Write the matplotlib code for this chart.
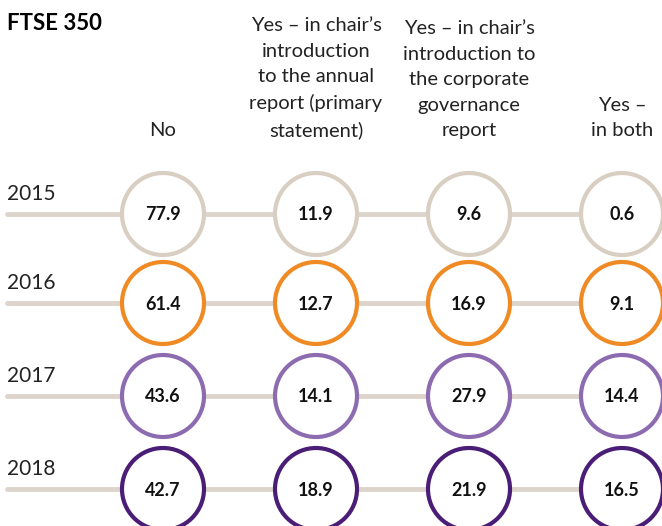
import matplotlib.pyplot as plt
from matplotlib.patches import Circle

years = ["2015", "2016", "2017", "2018"]
columns = ["No",
           "Yes \u2013 in chair\u2019s\nintroduction\nto the annual\nreport (primary\nstatement)",
           "Yes \u2013 in chair\u2019s\nintroduction to\nthe corporate\ngovernance\nreport",
           "Yes \u2013\nin both"]
values = [
    [77.9, 11.9, 9.6, 0.6],
    [61.4, 12.7, 16.9, 9.1],
    [43.6, 14.1, 27.9, 14.4],
    [42.7, 18.9, 21.9, 16.5],
]
ring_colors = ["#d8cec2", "#f08a24", "#8c6bb1", "#4a1d77"]
line_color = "#ddd5cb"

plt.rcParams['font.family'] = ['Lato', 'DejaVu Sans']

fig = plt.figure(figsize=(6.62, 5.26), dpi=100)
ax = fig.add_axes([0, 0, 1, 1])
ax.set_xlim(0, 662)
ax.set_ylim(526, 0)
ax.axis('off')

col_x = [163, 316, 469, 622]
row_y = [214, 303, 396, 489]
r = 41

ax.text(7, 23, "FTSE 350", fontsize=16, fontweight='bold', va='center', ha='left')

# column headers, bottom-aligned above the first row
for x, label in zip(col_x, columns):
    ax.text(x, 139, label, fontsize=14.5, ha='center', va='bottom',
            linespacing=1.6, color='#222222')

for i, year in enumerate(years):
    y = row_y[i]
    ax.plot([7, 662], [y, y], color=line_color, lw=3.5, solid_capstyle='round', zorder=1)
    ax.text(7, y - 20, year, fontsize=15, ha='left', va='center', color='#222222')
    for j, x in enumerate(col_x):
        ax.add_patch(Circle((x, y), r, facecolor='white', edgecolor=ring_colors[i],
                            lw=3, zorder=2))
        ax.text(x, y + 1, f"{values[i][j]:.1f}", fontsize=13, fontweight='bold',
                ha='center', va='center', color='#111111', zorder=3)

fig.savefig('out.png', dpi=100)
